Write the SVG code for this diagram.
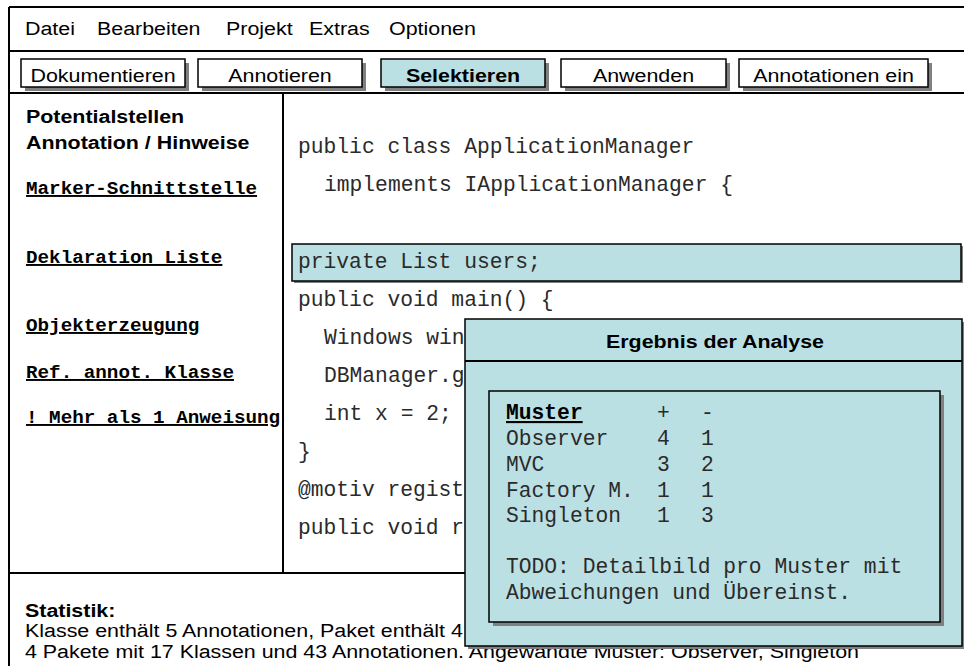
<svg xmlns="http://www.w3.org/2000/svg" width="964" height="666" viewBox="0 0 964 666">
  <style>
    .sans { font-family: "Liberation Sans", Arial, sans-serif; font-size: 18px; fill: #000; }
    .b { font-weight: bold; }
    .mono { font-family: "Liberation Mono", "Courier New", monospace; font-size: 21.3px; fill: #2a2a2a; }
    .lbl { font-family: "Liberation Mono", "Courier New", monospace; font-size: 19.25px; font-weight: bold; fill: #000; text-decoration: underline; text-decoration-thickness: 2px; text-underline-offset: 3px; }
    .line { fill: none; stroke: #000; stroke-width: 2; }
    .btn { fill: #fff; stroke: #000; stroke-width: 1.5; }
    .sel { fill: #bbe0e3; stroke: #000; stroke-width: 1.5; }
    .shadow { fill: #808080; }
  </style>

  <!-- window frame and panel separators -->
  <g id="frame">
    <rect x="0" y="0" width="964" height="666" fill="#fff"/>
    <line class="line" x1="9" y1="7" x2="964" y2="7"/>
    <line class="line" x1="9" y1="7" x2="9" y2="666"/>
    <line class="line" x1="9" y1="51" x2="964" y2="51"/>
    <line class="line" x1="9" y1="93" x2="964" y2="93" stroke-width="2.5"/>
    <line class="line" x1="283" y1="93" x2="283" y2="573"/>
    <line class="line" x1="9" y1="573" x2="964" y2="573"/>
  </g>

  <!-- menu bar -->
  <g id="menubar">
    <text class="sans" transform="translate(25 35) scale(1.19 1)">Datei</text>
    <text class="sans" transform="translate(97 35) scale(1.19 1)">Bearbeiten</text>
    <text class="sans" transform="translate(226 35) scale(1.19 1)">Projekt</text>
    <text class="sans" transform="translate(309 35) scale(1.19 1)">Extras</text>
    <text class="sans" transform="translate(389 35) scale(1.19 1)">Optionen</text>
  </g>

  <!-- tool bar buttons -->
  <g id="btn-dokumentieren">
    <rect class="shadow" x="25" y="63" width="164" height="28"/>
    <rect class="btn" x="21" y="59" width="164" height="28"/>
    <text class="sans" text-anchor="middle" transform="translate(103 82) scale(1.19 1)">Dokumentieren</text>
  </g>
  <g id="btn-annotieren">
    <rect class="shadow" x="202" y="63" width="164" height="28"/>
    <rect class="btn" x="198" y="59" width="164" height="28"/>
    <text class="sans" text-anchor="middle" transform="translate(280 82) scale(1.19 1)">Annotieren</text>
  </g>
  <g id="btn-selektieren">
    <rect class="shadow" x="385" y="63" width="164" height="28"/>
    <rect class="sel" x="381" y="59" width="164" height="28"/>
    <text class="sans b" text-anchor="middle" transform="translate(463 82) scale(1.19 1)">Selektieren</text>
  </g>
  <g id="btn-anwenden">
    <rect class="shadow" x="565" y="63" width="165" height="28"/>
    <rect class="btn" x="561" y="59" width="165" height="28"/>
    <text class="sans" text-anchor="middle" transform="translate(643.5 82) scale(1.19 1)">Anwenden</text>
  </g>
  <g id="btn-annotationen">
    <rect class="shadow" x="743" y="63" width="189" height="28"/>
    <rect class="btn" x="739" y="59" width="189" height="28"/>
    <text class="sans" text-anchor="middle" transform="translate(833.5 82) scale(1.19 1)">Annotationen ein</text>
  </g>

  <!-- list of candidate locations -->
  <g id="potentialstellen">
    <text class="sans b" transform="translate(26 123) scale(1.19 1)">Potentialstellen</text>
    <text class="sans b" transform="translate(26 149) scale(1.19 1)">Annotation / Hinweise</text>
    <text class="lbl" x="26" y="194">Marker-Schnittstelle</text>
    <text class="lbl" x="26" y="263">Deklaration Liste</text>
    <text class="lbl" x="26" y="331">Objekterzeugung</text>
    <text class="lbl" x="26" y="378">Ref. annot. Klasse</text>
    <text class="lbl" x="26" y="423">! Mehr als 1 Anweisung</text>
  </g>

  <!-- source code view -->
  <g id="code">
    <rect class="shadow" x="294" y="246" width="669" height="37"/>
    <rect class="sel" x="292" y="244" width="669" height="37"/>
    <text class="mono" x="298" y="153">public class ApplicationManager</text>
    <text class="mono" x="324" y="191">implements IApplicationManager {</text>
    <text class="mono" x="298" y="268">private List users;</text>
    <text class="mono" x="298" y="306">public void main() {</text>
    <text class="mono" x="324" y="344">Windows win</text>
    <text class="mono" x="324" y="382">DBManager.g</text>
    <text class="mono" x="324" y="420">int x = 2;</text>
    <text class="mono" x="298" y="458">}</text>
    <text class="mono" x="298" y="496">@motiv regist</text>
    <text class="mono" x="298" y="534">public void r</text>
  </g>

  <!-- statistics footer -->
  <g id="statistik">
    <text class="sans b" transform="translate(25 617) scale(1.19 1)">Statistik:</text>
    <text class="sans" transform="translate(25 637) scale(1.19 1)">Klasse enthält 5 Annotationen, Paket enthält 4</text>
    <text class="sans" transform="translate(25 658) scale(1.19 1)">4 Pakete mit 17 Klassen und 43 Annotationen. Angewandte Muster: Observer, Singleton</text>
  </g>

  <!-- analysis result dialog -->
  <g id="ergebnis">
    <rect class="shadow" x="468" y="322" width="497" height="327"/>
    <rect class="sel" x="465" y="319" width="497" height="327"/>
    <line class="line" x1="465" y1="361" x2="962" y2="361" stroke-width="1.5"/>
    <text class="sans b" text-anchor="middle" transform="translate(715 348) scale(1.19 1)">Ergebnis der Analyse</text>
    <rect class="shadow" x="493" y="395" width="451" height="231"/>
    <rect class="sel" x="489" y="391" width="451" height="231"/>
    <text class="mono" y="419"><tspan x="506" font-weight="bold" fill="#000" text-decoration="underline">Muster</tspan><tspan x="657">+</tspan><tspan x="701">-</tspan></text>
    <text class="mono" y="445"><tspan x="506">Observer</tspan><tspan x="657">4</tspan><tspan x="701">1</tspan></text>
    <text class="mono" y="471"><tspan x="506">MVC</tspan><tspan x="657">3</tspan><tspan x="701">2</tspan></text>
    <text class="mono" y="497"><tspan x="506">Factory M.</tspan><tspan x="657">1</tspan><tspan x="701">1</tspan></text>
    <text class="mono" y="522"><tspan x="506">Singleton</tspan><tspan x="657">1</tspan><tspan x="701">3</tspan></text>
    <text class="mono" x="506" y="573">TODO: Detailbild pro Muster mit</text>
    <text class="mono" x="506" y="599">Abweichungen und Übereinst.</text>
  </g>
</svg>
